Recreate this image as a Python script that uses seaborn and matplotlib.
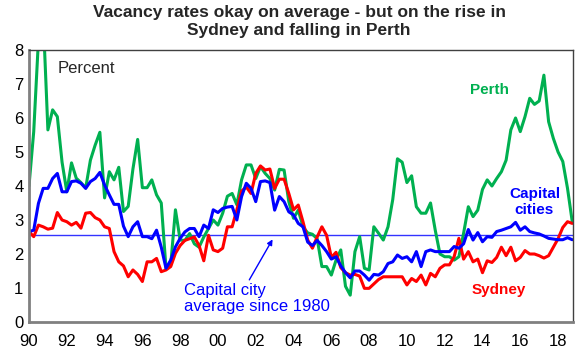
import numpy as np
import pandas as pd
import seaborn as sns
import matplotlib.pyplot as plt

# quarterly vacancy rates, 1990 Q1 to 2018 Q4
perth = [
    4.0, 5.6, 8.3, 9.0,      # 1990
    5.65, 6.24, 6.04, 4.7,   # 1991
    3.83, 4.68, 4.23, 4.1,   # 1992
    3.94, 4.76, 5.2, 5.58,   # 1993
    3.65, 4.42, 4.18, 4.55,  # 1994
    3.25, 3.4, 4.5, 5.37,    # 1995
    3.95, 3.95, 4.18, 3.74,  # 1996
    3.5, 1.58, 1.68, 3.3,    # 1997
    2.41, 2.4, 2.6, 2.3,     # 1998
    2.2, 2.5, 2.75, 3.0,     # 1999
    2.85, 3.2, 3.7, 3.78,    # 2000
    3.45, 4.18, 4.62, 4.62,  # 2001
    4.22, 4.57, 4.37, 4.22,  # 2002
    3.88, 4.49, 4.47, 3.54,  # 2003
    3.05, 3.29, 2.8, 2.62,   # 2004
    2.58, 2.45, 1.63, 1.63,  # 2005
    1.38, 1.82, 2.12, 1.05,  # 2006
    0.79, 2.07, 2.51, 1.58,  # 2007
    1.53, 2.8, 2.61, 2.41,   # 2008
    2.8, 3.6, 4.8, 4.7,      # 2009
    4.1, 4.3, 3.39, 3.2,     # 2010
    3.2, 3.5, 2.7, 2.0,      # 2011
    1.92, 1.92, 1.82, 1.92,  # 2012
    2.61, 3.39, 3.1, 3.29,   # 2013
    3.9, 4.18, 4.0, 4.22,    # 2014
    4.42, 4.76, 5.65, 6.0,   # 2015
    5.6, 6.04, 6.58, 6.4,    # 2016
    6.5, 7.26, 5.89, 5.4,    # 2017
    5.0, 4.72, 3.93, 2.95,   # 2018
]

sydney = [
    2.66, 2.51, 2.85, 2.8,
    2.73, 2.76, 3.22, 3.0,
    2.95, 2.85, 2.93, 2.76,
    3.2, 3.22, 3.07, 3.0,
    2.8, 2.75, 2.07, 1.77,
    1.65, 1.33, 1.53, 1.4,
    1.19, 1.77, 1.77, 1.87,
    1.48, 1.53, 1.63, 2.02,
    2.25, 2.4, 2.45, 2.5,
    2.25, 1.8, 2.55, 2.12,
    2.07, 2.17, 2.8, 2.8,
    3.3, 3.85, 3.97, 3.78,
    4.37, 4.59, 4.47, 4.5,
    3.93, 4.2, 4.2, 3.78,
    3.3, 3.44, 2.95, 2.41,
    2.17, 2.5, 2.8, 2.55,
    1.9, 2.05, 1.6, 1.45,
    1.38, 1.4, 1.35, 0.99,
    0.99, 1.12, 1.25, 1.33,
    1.33, 1.33, 1.33, 1.33,
    1.09, 1.28, 1.19, 1.38,
    1.09, 1.43, 1.33, 1.58,
    1.68, 1.68, 1.92, 2.46,
    1.85, 2.07, 1.77, 1.85,
    1.45, 1.8, 1.75, 1.9,
    2.2, 1.95, 2.2, 1.8,
    1.9, 2.1, 2.0, 2.0,
    1.95, 1.88, 1.95, 2.2,
    2.45, 2.78, 2.95, 2.9,
]

capitals = [
    2.66, 2.7, 3.49, 3.93,
    3.93, 4.22, 4.37, 3.83,
    3.83, 4.13, 4.15, 4.08,
    3.93, 4.13, 4.22, 4.4,
    4.03, 3.74, 3.46, 3.46,
    2.82, 2.51, 2.8, 2.95,
    2.51, 2.51, 2.45, 2.7,
    2.2, 1.58, 1.82, 2.21,
    2.46, 2.65, 2.75, 2.75,
    2.51, 2.85, 2.75, 3.3,
    3.22, 3.34, 3.38, 3.4,
    3.0, 3.69, 4.08, 3.93,
    3.54, 4.13, 4.15, 4.1,
    3.29, 3.69, 3.54, 3.24,
    3.15, 2.9, 2.8, 2.35,
    2.25, 2.4, 2.25, 2.07,
    1.85, 1.92, 1.65, 1.45,
    1.3, 1.5, 1.5, 1.38,
    1.23, 1.4, 1.38, 1.48,
    1.72, 1.77, 1.97, 1.87,
    1.92, 1.77, 2.07, 1.63,
    2.07, 2.12, 2.07, 2.07,
    2.07, 2.07, 2.22, 2.17,
    2.3, 2.72, 2.41, 2.63,
    2.36, 2.51, 2.49, 2.66,
    2.7, 2.75, 2.8, 2.93,
    2.7, 2.8, 2.66, 2.62,
    2.59, 2.53, 2.46, 2.44,
    2.42, 2.42, 2.48, 2.42,
]

capital_avg = 2.55
tick_years = list(range(1990, 2019, 2))
tick_labels = ['90', '92', '94', '96', '98', '00', '02', '04', '06', '08',
               '10', '12', '14', '16', '18']

years = 1990 + np.arange(len(perth)) * 0.25
df = pd.DataFrame({
    'Year': np.concatenate([years, years, years]),
    'Rate': perth + sydney + capitals,
    'City': ['Perth'] * len(perth) + ['Sydney'] * len(sydney) + ['Capital cities'] * len(capitals),
})

sns.set_style('white')
plt.rcParams['font.family'] = ['Liberation Sans', 'DejaVu Sans']

green = '#00B050'
colors = {'Perth': green, 'Sydney': '#FF0000', 'Capital cities': '#0000FF'}

fig = plt.figure(figsize=(5.83, 3.53), dpi=100)
ax = fig.add_axes([29 / 583, 31 / 353, 544 / 583, 272 / 353])

ax.axhline(capital_avg, color='#3333FF', lw=1.0, zorder=1)
sns.lineplot(data=df, x='Year', y='Rate', hue='City', palette=colors,
             hue_order=['Perth', 'Sydney', 'Capital cities'],
             linewidth=2.2, legend=False, ax=ax)

ax.set_xlim(1990, 2018.79)
ax.set_ylim(0, 8)
ax.set_xticks(tick_years)
ax.set_xticklabels(tick_labels)
ax.set_yticks(range(0, 9))
ax.set_xlabel('')
ax.set_ylabel('')
ax.tick_params(axis='both', labelsize=12, colors='black')
ax.tick_params(axis='x', direction='out', length=5, width=1, color='#808080', pad=4)
ax.tick_params(axis='y', direction='in', length=3, width=1, color='#808080', pad=4)

for s in ['left', 'bottom']:
    ax.spines[s].set_color('#808080')
    ax.spines[s].set_linewidth(2)
for s in ['top', 'right']:
    ax.spines[s].set_color('#404040')
    ax.spines[s].set_linewidth(1)

ax.text(1991.5, 7.47, 'Percent', fontsize=12, ha='left', va='center')
ax.text(2014.38, 6.82, 'Perth', fontsize=11, fontweight='bold', color=green,
        ha='center', va='center')
ax.text(2016.75, 3.54, 'Capital\ncities', fontsize=11, fontweight='bold',
        color='#0000FF', ha='center', va='center')
ax.text(2014.86, 0.94, 'Sydney', fontsize=11, fontweight='bold', color='#FF0000',
        ha='center', va='center')
ax.text(1998.18, 0.68, 'Capital city\naverage since 1980', fontsize=12,
        color='#0000FF', ha='left', va='center', linespacing=1.1)
ax.annotate('', xy=(2002.89, 2.43), xytext=(2001.66, 1.24),
            arrowprops=dict(arrowstyle='-|>', color='#0000FF', lw=1,
                            mutation_scale=8, shrinkA=0, shrinkB=0))

fig.text(0.513, 0.985, 'Vacancy rates okay on average - but on the rise in\nSydney and falling in Perth',
         fontsize=12.5, fontweight='bold', ha='center', va='top', linespacing=1.2)

plt.savefig('out.png', dpi=100)
